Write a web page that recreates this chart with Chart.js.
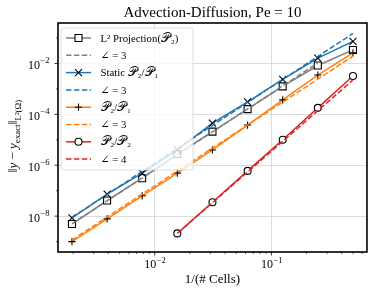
<!DOCTYPE html>
<html>
<head>
<meta charset="utf-8">
<script src="https://cdn.jsdelivr.net/npm/chart.js@4.4.1/dist/chart.umd.min.js"></script>
<style>
  html, body { margin: 0; padding: 0; background: #fff; }
</style>
</head>
<body>
<canvas id="chart" width="373" height="295"></canvas>
<script>
// --- Data ---
const invCells = [0.001953125, 0.00390625, 0.0078125, 0.015625, 0.03125, 0.0625, 0.125, 0.25, 0.5];
const invCellsP2P2 = [0.015625, 0.03125, 0.0625, 0.125, 0.25, 0.5];

const errL2Proj = [4.9e-9, 4.1e-8, 3.1e-7, 2.75e-6, 2.1e-5, 1.6e-4, 1.26e-3, 8.3e-3, 3.4e-2];
const errStatic = [8.5e-9, 7.4e-8, 4.9e-7, 4.0e-6, 4.5e-5, 3.1e-4, 2.35e-3, 1.62e-2, 7.4e-2];
const errP2P1 = [1.0e-9, 7.8e-9, 6.3e-8, 4.9e-7, 4.0e-6, 3.8e-5, 3.7e-4, 3.5e-3, 2.6e-2];
const errP2P2 = [2.1e-9, 3.5e-8, 6.0e-7, 1.0e-5, 1.8e-4, 3.2e-3];

// reference slope lines, just their two end points
const refL2X = [0.001953125, 0.25];
const refL2Y = [5.0e-9, 1.05e-2];
const refStaticX = [0.001953125, 0.5];
const refStaticY = [8.9e-9, 1.51e-1];
const refP2P1X = [0.001953125, 0.5];
const refP2P1Y = [1.15e-9, 1.95e-2];
const refP2P2X = [0.015625, 0.5];
const refP2P2Y = [2.1e-9, 2.24e-3];

const legendLabels = ['L² Projection(𝒫₂)', '∠ = 3', 'Static 𝒫₂/𝒫₁', '∠ = 3', '𝒫₂/𝒫₁', '∠ = 3', '𝒫₂/𝒫₂', '∠ = 4'];

// axis ticks
const xMajorTicks = [0.01, 0.1];
const xMajorExp = ['−2', '−1'];
const xMinorTicks = [0.002, 0.003, 0.004, 0.005, 0.006, 0.007, 0.008, 0.009,
                     0.02, 0.03, 0.04, 0.05, 0.06, 0.07, 0.08, 0.09,
                     0.2, 0.3, 0.4, 0.5, 0.6];
const yMajorTicks = [1e-2, 1e-4, 1e-6, 1e-8];
const yMajorExp = ['−2', '−4', '−6', '−8'];
const yMinorTicks = [1e-1, 1e-3, 1e-5, 1e-7, 1e-9];

const xMin = 1.483e-3, xMax = 0.659;
const yMin = 3.9e-10, yMax = 0.389;

const SERIF = '"Liberation Serif", "DejaVu Serif", serif';
const GRAY = '#7f7f7f', BLUE = '#1f77b4', ORANGE = '#ff7f0e', RED = '#d62728';

// --- Dataset helpers ---
function pts(xs, ys) {
    return xs.map((v, i) => ({ x: v, y: ys[i] }));
}

function solid(label, xs, ys, color, marker, radius) {
    return {
        label, data: pts(xs, ys),
        borderColor: color, borderWidth: 1.5,
        pointStyle: marker, pointRadius: radius, pointHoverRadius: radius,
        pointBorderColor: '#000', pointBackgroundColor: '#fff', pointBorderWidth: 1.1,
    };
}

function dashed(label, xs, ys, color) {
    return {
        label, data: pts(xs, ys),
        borderColor: color, borderWidth: 1.5, borderDash: [5.5, 2.4],
        pointRadius: 0, pointHoverRadius: 0,
    };
}

const datasets = [
    solid(legendLabels[0], invCells, errL2Proj, GRAY, 'rect', 4.95),
    dashed(legendLabels[1], refL2X, refL2Y, GRAY),
    solid(legendLabels[2], invCells, errStatic, BLUE, 'crossRot', 4.95),
    dashed(legendLabels[3], refStaticX, refStaticY, BLUE),
    solid(legendLabels[4], invCells, errP2P1, ORANGE, 'cross', 3.6),
    dashed(legendLabels[5], refP2P1X, refP2P1Y, ORANGE),
    solid(legendLabels[6], invCellsP2P2, errP2P2, RED, 'circle', 3.5),
    dashed(legendLabels[7], refP2P2X, refP2P2Y, RED),
];
// later series on top, like matplotlib
datasets.forEach((d, i) => { d.order = 20 - i; });

// --- Drawing helpers ---
function drawMarker(ctx, style, x, y, r) {
    ctx.save();
    ctx.setLineDash([]);
    ctx.strokeStyle = '#000';
    ctx.fillStyle = '#fff';
    ctx.lineWidth = 1.1;
    ctx.beginPath();
    if (style === 'rect') {
        const s = r * Math.SQRT1_2;
        ctx.rect(x - s, y - s, 2 * s, 2 * s);
        ctx.fill();
    } else if (style === 'circle') {
        ctx.arc(x, y, r, 0, Math.PI * 2);
        ctx.fill();
    } else if (style === 'crossRot') {
        const s = r * Math.SQRT1_2;
        ctx.moveTo(x - s, y - s); ctx.lineTo(x + s, y + s);
        ctx.moveTo(x - s, y + s); ctx.lineTo(x + s, y - s);
    } else if (style === 'cross') {
        ctx.moveTo(x - r, y); ctx.lineTo(x + r, y);
        ctx.moveTo(x, y - r); ctx.lineTo(x, y + r);
    }
    ctx.stroke();
    ctx.restore();
}

function powLabel(ctx, exp, x, baseline, align) {
    ctx.font = `12px ${SERIF}`;
    const bw = ctx.measureText('10').width;
    ctx.font = `8.5px ${SERIF}`;
    const ew = ctx.measureText(exp).width;
    const x0 = align === 'center' ? x - (bw + ew) / 2 : x - bw - ew;
    ctx.textAlign = 'left';
    ctx.textBaseline = 'alphabetic';
    ctx.font = `12px ${SERIF}`;
    ctx.fillText('10', x0, baseline);
    ctx.font = `8.5px ${SERIF}`;
    ctx.fillText(exp, x0 + bw + 0.5, baseline - 5.5);
}

// pieces: [text, size, italic, shift]
function richText(ctx, pieces, cx, baseline) {
    const font = p => `${p[2] ? 'italic ' : ''}${p[1]}px ${SERIF}`;
    let total = 0;
    pieces.forEach(p => { ctx.font = font(p); total += ctx.measureText(p[0]).width; });
    let x = cx - total / 2;
    ctx.textAlign = 'left';
    ctx.textBaseline = 'alphabetic';
    pieces.forEach(p => {
        ctx.font = font(p);
        ctx.fillText(p[0], x, baseline + p[3]);
        x += ctx.measureText(p[0]).width;
    });
}

// legend label: the script P glyphs come out narrow, so give them more size
function legendText(ctx, label, x, baseline) {
    ctx.textAlign = 'left';
    ctx.textBaseline = 'alphabetic';
    for (const ch of Array.from(label)) {
        const big = ch === '𝒫';
        const sub = ch === '₁' || ch === '₂';
        ctx.font = `${big ? 13 : sub ? 11.5 : 10.8}px ${SERIF}`;
        ctx.fillText(ch, x, baseline);
        x += ctx.measureText(ch).width + (big ? 0.8 : 0);
    }
}

const decor = {
    id: 'decor',
    afterDatasetsDraw(chart) {
        const { ctx, chartArea: a, scales: { x, y } } = chart;
        ctx.save();

        // legend box
        ctx.beginPath();
        ctx.roundRect(61, 28, 132, 142, 3);
        ctx.fillStyle = 'rgba(255,255,255,0.8)';
        ctx.fill();
        ctx.strokeStyle = '#d6d6d6';
        ctx.lineWidth = 0.8;
        ctx.stroke();

        chart.data.datasets.forEach((ds, i) => {
            const ly = 38 + i * 17.3;
            ctx.save();
            ctx.strokeStyle = ds.borderColor;
            ctx.lineWidth = ds.borderWidth;
            ctx.setLineDash(ds.borderDash || []);
            ctx.beginPath();
            ctx.moveTo(66, ly);
            ctx.lineTo(91, ly);
            ctx.stroke();
            ctx.restore();
            if (ds.pointRadius > 0) drawMarker(ctx, ds.pointStyle, 78.5, ly, ds.pointRadius);
            ctx.fillStyle = '#000';
            legendText(ctx, ds.label, 100.5, ly + 3.6);
        });

        // frame
        ctx.strokeStyle = '#000';
        ctx.lineWidth = 1.6;
        ctx.strokeRect(a.left, a.top, a.right - a.left, a.bottom - a.top);

        // tick marks
        ctx.lineWidth = 0.8;
        ctx.beginPath();
        xMajorTicks.forEach(v => { const p = x.getPixelForValue(v); ctx.moveTo(p, a.bottom); ctx.lineTo(p, a.bottom + 3.5); });
        yMajorTicks.forEach(v => { const p = y.getPixelForValue(v); ctx.moveTo(a.left, p); ctx.lineTo(a.left - 3.5, p); });
        ctx.stroke();
        ctx.lineWidth = 0.6;
        ctx.beginPath();
        xMinorTicks.forEach(v => { const p = x.getPixelForValue(v); ctx.moveTo(p, a.bottom); ctx.lineTo(p, a.bottom + 2); });
        yMinorTicks.forEach(v => { const p = y.getPixelForValue(v); ctx.moveTo(a.left, p); ctx.lineTo(a.left - 2, p); });
        ctx.stroke();

        // tick labels
        ctx.fillStyle = '#000';
        xMajorTicks.forEach((v, i) => powLabel(ctx, xMajorExp[i], x.getPixelForValue(v), 268, 'center'));
        yMajorTicks.forEach((v, i) => powLabel(ctx, yMajorExp[i], a.left - 9, y.getPixelForValue(v) + 5.5, 'right'));

        // title and axis labels
        ctx.font = `15px ${SERIF}`;
        ctx.textAlign = 'center';
        ctx.fillText('Advection-Diffusion, Pe = 10', (a.left + a.right) / 2, 17);
        ctx.font = `13px ${SERIF}`;
        ctx.fillText('1/(# Cells)', (a.left + a.right) / 2, 283);

        ctx.save();
        ctx.translate(17, 136);
        ctx.rotate(-Math.PI / 2);
        richText(ctx, [
            ['‖', 13, false, 0], ['y', 13, true, 0], [' − ', 13, false, 0], ['y', 13, true, 0],
            ['exact', 9, false, 3], ['‖', 13, false, 0], ['L²(Ω)', 9, false, 4],
        ], 0, 0);
        ctx.restore();

        ctx.restore();
    }
};

new Chart(document.getElementById('chart'), {
    type: 'line',
    data: { datasets },
    options: {
        responsive: false,
        animation: false,
        events: [],
        devicePixelRatio: 1,
        layout: { padding: { top: 23, right: 5, left: 0, bottom: 0 } },
        plugins: { legend: { display: false }, tooltip: { enabled: false }, title: { display: false } },
        scales: {
            x: {
                type: 'logarithmic', min: xMin, max: xMax,
                afterFit: s => { s.height = 43; },
                afterBuildTicks: s => { s.ticks = xMajorTicks.map(v => ({ value: v, major: true })); },
                ticks: { display: false },
                border: { display: false },
                grid: { drawTicks: false, color: '#d3d3d3', lineWidth: 0.8 },
            },
            y: {
                type: 'logarithmic', min: yMin, max: yMax,
                afterFit: s => { s.width = 58; },
                afterBuildTicks: s => { s.ticks = yMajorTicks.map(v => ({ value: v, major: true })); },
                ticks: { display: false },
                border: { display: false },
                grid: { drawTicks: false, color: '#d3d3d3', lineWidth: 0.8 },
            }
        }
    },
    plugins: [decor]
});
</script>
</body>
</html>
